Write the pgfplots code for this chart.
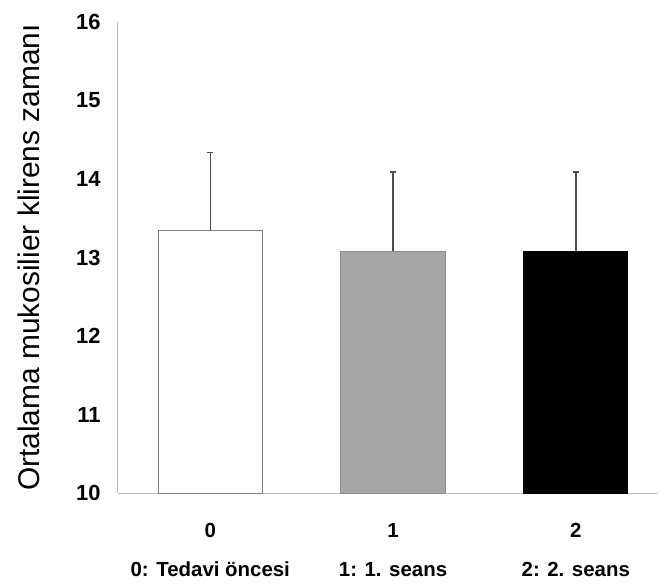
\documentclass[border=0pt]{standalone}
\usepackage{pgfplots}
\pgfplotsset{compat=1.18}
\usepackage{fontspec}
\setmainfont{Liberation Sans}
\definecolor{axisgray}{HTML}{BFBFBF}
\definecolor{midgray}{HTML}{A6A6A6}
\definecolor{edgegray}{HTML}{8C8C8C}
\definecolor{errgray}{HTML}{4D4D4D}
\begin{document}
\begin{tikzpicture}
\useasboundingbox (-118bp,-91bp) rectangle (541bp,493bp);
\begin{axis}[
  scale only axis,
  width=540bp, height=471bp,
  xmin=-0.505, xmax=2.45,
  ymin=10, ymax=16,
  ytick={10,11,...,16},
  xtick={0,1,2},
  xticklabels={{0\\0: Tedavi öncesi},{1\\1: 1. seans},{2\\2: 2. seans}},
  axis x line*=bottom, axis y line*=left,
  axis line style={axisgray, line width=1bp, -},
  major tick length=0pt,
  /pgf/number format/assume math mode=true,
  yticklabel style={font=\fontsize{22}{26}\selectfont\bfseries, xshift=-14bp},
  xticklabel style={font=\fontsize{20.5}{39}\selectfont\bfseries, align=center, anchor=north, yshift=-27bp},
  ylabel={Ortalama mukosilier klirens zamanı},
  ylabel style={font=\fontsize{30}{36}\selectfont, at={(axis description cs:-0.165,0.5)}, anchor=center},
  ybar, bar width=0.57, bar shift=0pt,
  clip=false,
]
\addplot[fill=white, draw=gray, line width=1bp,
  error bars/.cd, y dir=plus, y explicit,
  error bar style={errgray, line width=1.5bp},
  error mark options={errgray, rotate=90, mark size=3bp, line width=1.5bp}]
  coordinates {(0,13.35) +- (0,0.99)};
\addplot[fill=midgray, draw=edgegray, line width=1bp,
  error bars/.cd, y dir=plus, y explicit,
  error bar style={errgray, line width=1.5bp},
  error mark options={errgray, rotate=90, mark size=3bp, line width=1.5bp}]
  coordinates {(1,13.08) +- (0,1.01)};
\addplot[fill=black, draw=black, line width=1bp,
  error bars/.cd, y dir=plus, y explicit,
  error bar style={errgray, line width=1.5bp},
  error mark options={errgray, rotate=90, mark size=3bp, line width=1.5bp}]
  coordinates {(2,13.08) +- (0,1.01)};
\end{axis}
\end{tikzpicture}
\end{document}
